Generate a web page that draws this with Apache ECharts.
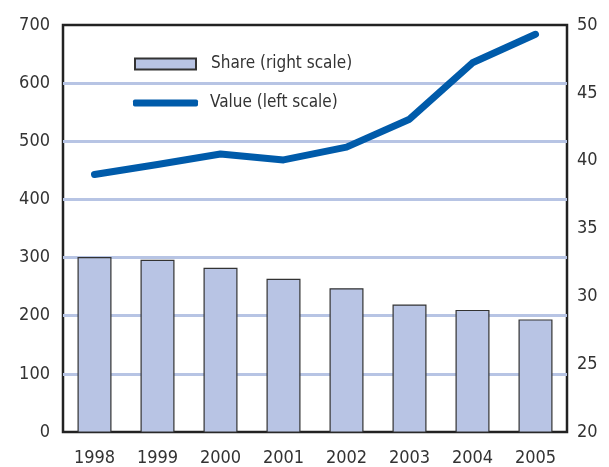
<!DOCTYPE html>
<html>
<head>
<meta charset="utf-8">
<script src="https://cdn.jsdelivr.net/npm/echarts@6/dist/echarts.min.js"></script>
<style>
  html, body { margin: 0; padding: 0; background: #fff; }
  #chart { width: 609px; height: 467px; }
</style>
</head>
<body>
<div id="chart"></div>
<script>
const years = ["1998", "1999", "2000", "2001", "2002", "2003", "2004", "2005"];
const shareRight = [32.9, 32.7, 32.1, 31.3, 30.6, 29.4, 29.0, 28.3];
const valueLeft = [443, 460, 478, 468, 490, 538, 635, 684];

const font = '"Liberation Sans Narrow", "DejaVu Sans Condensed", sans-serif';
const textColor = "#333";

const chart = echarts.init(document.getElementById("chart"));

chart.setOption({
  animation: false,
  textStyle: { fontFamily: font },
  grid: {
    left: 63, right: 42, top: 25, bottom: 35,
    show: true, borderColor: "#222", borderWidth: 2.5,
    backgroundColor: "transparent"
  },
  legend: [
    {
      data: [{ name: "Share (right scale)", icon: "rect" }],
      left: 134, top: 54, padding: 0,
      itemWidth: 61, itemHeight: 11,
      textStyle: { fontSize: 17, color: textColor, fontFamily: font, lineHeight: 20, padding: [0, 0, 0, 10] }
    },
    {
      data: [{ name: "Value (left scale)", icon: "roundRect" }],
      left: 133, top: 93, padding: 0,
      itemWidth: 65, itemHeight: 7,
      textStyle: { fontSize: 17, color: textColor, fontFamily: font, lineHeight: 20, padding: [0, 0, 0, 7] }
    }
  ],
  xAxis: {
    type: "category",
    data: years,
    axisLine: { show: false },
    axisTick: { show: false },
    axisLabel: { color: textColor, fontSize: 18, margin: 17, fontFamily: font }
  },
  yAxis: [
    {
      type: "value", min: 0, max: 700, interval: 100,
      axisLine: { show: false },
      axisTick: { show: false },
      axisLabel: { color: textColor, fontSize: 18, margin: 13, fontFamily: font },
      splitLine: { showMinLine: false, showMaxLine: false, lineStyle: { color: "#b7c4e4", width: 3 } }
    },
    {
      type: "value", min: 20, max: 50, interval: 5,
      axisLine: { show: false },
      axisTick: { show: false },
      axisLabel: { color: textColor, fontSize: 18, margin: 10, fontFamily: font },
      splitLine: { show: false }
    }
  ],
  series: [
    {
      name: "Share (right scale)",
      type: "bar",
      yAxisIndex: 1,
      data: shareRight,
      barWidth: 34,
      itemStyle: { color: "#b8c4e4", borderColor: "#333", borderWidth: 1.2 }
    },
    {
      name: "Value (left scale)",
      type: "line",
      yAxisIndex: 0,
      data: valueLeft,
      symbol: "none",
      color: "#005baa",
      lineStyle: { color: "#005baa", width: 7, cap: "round", join: "round" },
      z: 5
    }
  ]
});
</script>
</body>
</html>
